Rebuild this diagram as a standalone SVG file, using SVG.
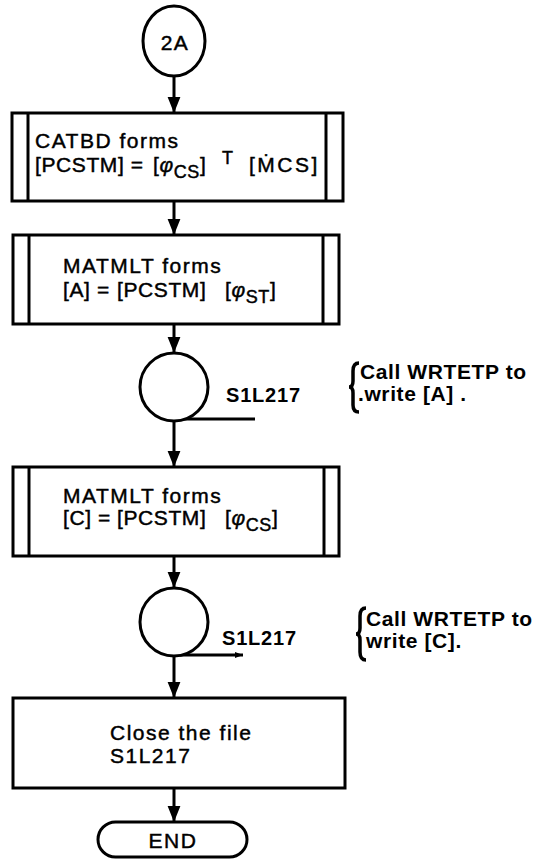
<svg xmlns="http://www.w3.org/2000/svg" width="548" height="862" viewBox="0 0 548 862">
<style>
.bx{fill:#fff;stroke:#000;stroke-width:3}
.ln{fill:none;stroke:#000;stroke-width:3}
.t{font-family:"Liberation Sans",Arial,sans-serif;font-size:21px;letter-spacing:1.5px;fill:#000;stroke:#000;stroke-width:0.45}
.f{letter-spacing:0.6px}
.sb{font-size:18px}
.side{font-family:"Liberation Sans",Arial,sans-serif;font-size:21px;font-weight:bold;letter-spacing:0.6px;fill:#000}
.lbl{font-family:"Liberation Sans",Arial,sans-serif;font-size:20px;font-weight:bold;letter-spacing:0.8px;fill:#000}
.br{fill:none;stroke:#000;stroke-width:3.5}
</style>
<defs>
<marker id="ah" markerWidth="16" markerHeight="20" refX="20" refY="8" orient="auto" markerUnits="userSpaceOnUse" viewBox="0 0 20 16"><path d="M0,0 L20,8 L0,16 z" fill="#000"/></marker>
<marker id="ahs" markerWidth="8" markerHeight="8" refX="8" refY="3" orient="auto" markerUnits="userSpaceOnUse" viewBox="0 0 8 6"><path d="M0,0 L8,3 L0,6 z" fill="#000"/></marker>
</defs>

<g id="connectors">
<line class="ln" x1="174" y1="76" x2="174" y2="113" marker-end="url(#ah)"/>
<line class="ln" x1="174" y1="201" x2="174" y2="235" marker-end="url(#ah)"/>
<line class="ln" x1="174" y1="324" x2="174" y2="353" marker-end="url(#ah)"/>
<line class="ln" x1="174" y1="421" x2="174" y2="467" marker-end="url(#ah)"/>
<line class="ln" x1="174" y1="556" x2="174" y2="588" marker-end="url(#ah)"/>
<line class="ln" x1="174" y1="656" x2="174" y2="698" marker-end="url(#ah)"/>
<line class="ln" x1="174" y1="788" x2="174" y2="822" marker-end="url(#ah)"/>
<line class="ln" x1="180" y1="419" x2="255" y2="419"/>
<line class="ln" x1="180" y1="655" x2="243" y2="655" marker-end="url(#ahs)"/>
</g>

<g id="n2A">
<ellipse class="bx" cx="174" cy="41" rx="31" ry="35"/>
<text class="t" x="175" y="50" text-anchor="middle">2A</text>
</g>

<g id="catbd">
<rect class="bx" x="12" y="113" width="331" height="88"/>
<line class="ln" x1="28" y1="113" x2="28" y2="201"/>
<line class="ln" x1="326" y1="113" x2="326" y2="201"/>
<text class="t" x="35" y="148">CATBD forms</text>
<text class="t f" x="35" y="172">[PCSTM] =<tspan x="153">[</tspan><tspan font-style="italic">φ</tspan><tspan class="sb" dy="6">CS</tspan><tspan dy="-6">]</tspan><tspan class="sb" x="222" dy="-8">T</tspan><tspan x="249" dy="8" letter-spacing="2.5">[ṀCS]</tspan></text>
</g>

<g id="matmlt1">
<rect class="bx" x="13" y="235" width="326" height="89"/>
<line class="ln" x1="29" y1="235" x2="29" y2="324"/>
<line class="ln" x1="323" y1="235" x2="323" y2="324"/>
<text class="t" x="63" y="273">MATMLT forms</text>
<text class="t f" x="63" y="297">[A] =<tspan x="117">[PCSTM]</tspan><tspan x="225">[</tspan><tspan font-style="italic">φ</tspan><tspan class="sb" dy="6">ST</tspan><tspan dy="-6">]</tspan></text>
</g>

<g id="wrt1">
<circle class="bx" cx="174" cy="387" r="34"/>
<text class="lbl" x="226" y="402">S1L217</text>
<path class="br" d="M359,363 Q353,363 353,371 L353,381 Q353,387 349,387 Q353,387 353,393 L353,405 Q353,412 359,412"/>
<text class="side" x="360" y="379">Call WRTETP to</text>
<text class="side" x="358" y="401">.write [A] .</text>
</g>

<g id="matmlt2">
<rect class="bx" x="13" y="467" width="326" height="89"/>
<line class="ln" x1="29" y1="467" x2="29" y2="556"/>
<line class="ln" x1="324" y1="467" x2="324" y2="556"/>
<text class="t" x="63" y="503">MATMLT forms</text>
<text class="t f" x="63" y="525">[C] =<tspan x="117">[PCSTM]</tspan><tspan x="225">[</tspan><tspan font-style="italic">φ</tspan><tspan class="sb" dy="6">CS</tspan><tspan dy="-6">]</tspan></text>
</g>

<g id="wrt2">
<circle class="bx" cx="174" cy="622" r="34"/>
<text class="lbl" x="222" y="645">S1L217</text>
<path class="br" d="M366,608 Q360,608 360,616 L360,628 Q360,634 356,634 Q360,634 360,640 L360,652 Q360,660 366,660"/>
<text class="side" x="366" y="626">Call WRTETP to</text>
<text class="side" x="366" y="648">write  [C].</text>
</g>

<g id="close">
<rect class="bx" x="13" y="698" width="332" height="90"/>
<text class="t" x="110" y="740">Close the file</text>
<text class="t" x="110" y="763">S1L217</text>
</g>

<g id="end">
<rect class="bx" x="98" y="822" width="149" height="35" rx="17.5"/>
<text class="t" x="173" y="848" text-anchor="middle">END</text>
</g>
</svg>
